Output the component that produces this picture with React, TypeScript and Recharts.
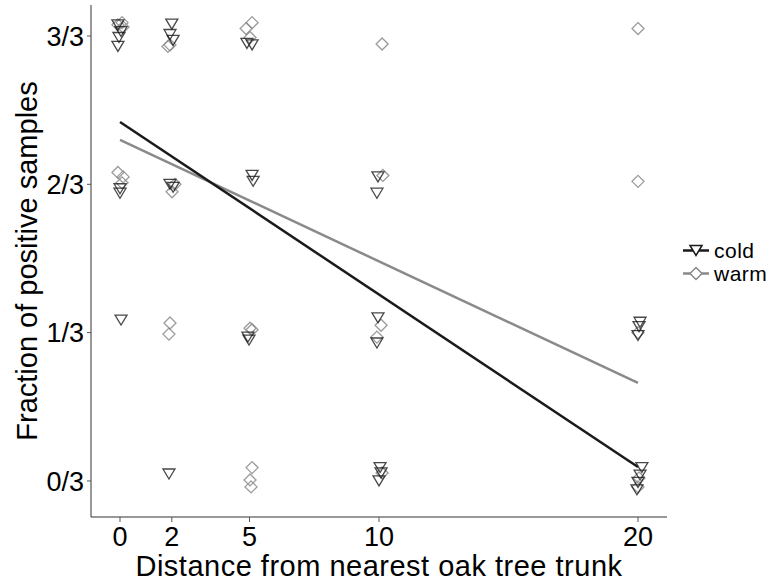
import React from 'react';
import { ScatterChart, Scatter, XAxis, YAxis, Label } from 'recharts';

// jittered observations, y in thirds (0..3)
const coldX = [-0.08, 0.04, -0.04, -0.08, 2.0, 1.93, 2.05, 4.9, 5.1,
  0.0, 0.0, 1.93, 2.05, 5.1, 5.14, 9.96, 9.92,
  0.04, 4.94, 4.98, 9.96, 9.92, 20.08, 20.04, 20.0,
  1.89, 10.04, 10.08, 10.0, 20.15, 20.08, 20.0, 19.96];
const coldY = [3.075, 3.03, 2.99, 2.93, 3.08, 3.01, 2.97, 2.95, 2.94,
  1.97, 1.94, 2.0, 1.98, 2.06, 2.02, 2.05, 1.94,
  1.085, 0.97, 0.95, 1.1, 0.93, 1.07, 1.04, 0.98,
  0.047, 0.09, 0.054, 0.0, 0.09, 0.04, -0.01, -0.06];
const warmX = [-0.08, 0.08, 0.12, 1.93, 1.85, 5.1, 4.87, 5.02, 10.12, 20.0,
  -0.08, 0.12, 0.08, 2.01, 2.12, 10.15, 20.0,
  1.93, 1.89, 5.02, 5.1, 10.08, 9.92, 20.0,
  5.1, 5.02, 5.06, 10.12, 20.04, 20.0];
const warmY = [3.075, 3.09, 3.06, 2.94, 2.93, 3.09, 3.05, 2.99, 2.946, 3.05,
  2.08, 2.05, 2.01, 1.95, 2.0, 2.06, 2.02,
  1.065, 0.99, 1.03, 1.02, 1.05, 0.97, 1.0,
  0.09, 0.007, -0.04, 0.054, 0.02, -0.04];

// fitted lines (start, end)
const fitX = [0, 20];
const coldFit = [2.42, 0.094];
const warmFit = [2.3, 0.661];

const xTicks = [0, 2, 5, 10, 20];
const yTicks = [0, 1, 2, 3];
const yTickLabels = ['0/3', '1/3', '2/3', '3/3'];

const coldData = coldX.map((x, i) => ({ x, y: coldY[i] }));
const warmData = warmX.map((x, i) => ({ x, y: warmY[i] }));
const coldLine = fitX.map((x, i) => ({ x, y: coldFit[i] }));
const warmLine = fitX.map((x, i) => ({ x, y: warmFit[i] }));

const FONT = '"Liberation Sans", Arial, sans-serif';
const COLD = '#1a1a1a';
const WARM = '#8a8a8a';

const Tri = (props: any) => {
  const { cx, cy } = props;
  return (
    <polygon
      points={`${cx - 6},${cy - 5} ${cx + 6},${cy - 5} ${cx},${cy + 5}`}
      fill="none" stroke={COLD} strokeOpacity={0.8} strokeWidth={1.3}
    />
  );
};

const Dia = (props: any) => {
  const { cx, cy } = props;
  return (
    <polygon
      points={`${cx},${cy - 6} ${cx + 6},${cy} ${cx},${cy + 6} ${cx - 6},${cy}`}
      fill="none" stroke={WARM} strokeOpacity={0.85} strokeWidth={1.3}
    />
  );
};

const NoDot = () => null;

export default function App() {
  return (
    <div style={{ position: 'absolute', left: 0, top: 0, width: 780, height: 586, background: '#fff', fontFamily: FONT }}>
      <ScatterChart width={780} height={586} margin={{ top: 5, right: 113, bottom: 9, left: 11 }}>
        <XAxis
          type="number" dataKey="x" domain={[-1.12, 21.12]} ticks={xTicks}
          allowDataOverflow height={60} stroke="#333" tickSize={5} tickMargin={5}
          tick={{ fill: '#000', fontSize: 27, fontFamily: FONT }} tickLine={{ stroke: '#555' }}
        >
          <Label value="Distance from nearest oak tree trunk" position="insideBottom" offset={1}
            style={{ fontSize: 29, fill: '#000', fontFamily: FONT, letterSpacing: 0.5 }} />
        </XAxis>
        <YAxis
          type="number" dataKey="y" domain={[-0.243, 3.209]} ticks={yTicks}
          allowDataOverflow width={80} stroke="#333" tickSize={4} tickMargin={3}
          tickFormatter={(v: number) => yTickLabels[v]}
          tick={{ fill: '#000', fontSize: 27, fontFamily: FONT }} tickLine={{ stroke: '#555' }}
        >
          <Label value="Fraction of positive samples" angle={-90} position="insideLeft" offset={16}
            style={{ fontSize: 29, fill: '#000', fontFamily: FONT, textAnchor: 'middle' }} />
        </YAxis>
        <Scatter data={warmData} shape={<Dia />} isAnimationActive={false} />
        <Scatter data={coldData} shape={<Tri />} isAnimationActive={false} />
        <Scatter data={warmLine} shape={<NoDot />} line={{ stroke: WARM, strokeWidth: 2.5 }} isAnimationActive={false} />
        <Scatter data={coldLine} shape={<NoDot />} line={{ stroke: COLD, strokeWidth: 2.5 }} isAnimationActive={false} />
      </ScatterChart>
      <div style={{ position: 'absolute', left: 681, top: 239 }}>
        {[
          { name: 'cold', color: COLD, shape: 'tri' },
          { name: 'warm', color: WARM, shape: 'dia' },
        ].map((s) => (
          <div key={s.name} style={{ display: 'flex', alignItems: 'center', height: 23 }}>
            <svg width={30} height={23}>
              <line x1={2} x2={28} y1={11.5} y2={11.5} stroke={s.color} strokeWidth={2.5} />
              {s.shape === 'tri' ? (
                <polygon points="9,6.5 21,6.5 15,16.5" fill="#fff" stroke={s.color} strokeWidth={1.5} />
              ) : (
                <polygon points="15,5.5 21,11.5 15,17.5 9,11.5" fill="#fff" stroke={s.color} strokeWidth={1.5} />
              )}
            </svg>
            <span style={{ fontSize: 21, color: '#000', marginLeft: 3, lineHeight: '20px', letterSpacing: 0.5 }}>{s.name}</span>
          </div>
        ))}
      </div>
    </div>
  );
}
